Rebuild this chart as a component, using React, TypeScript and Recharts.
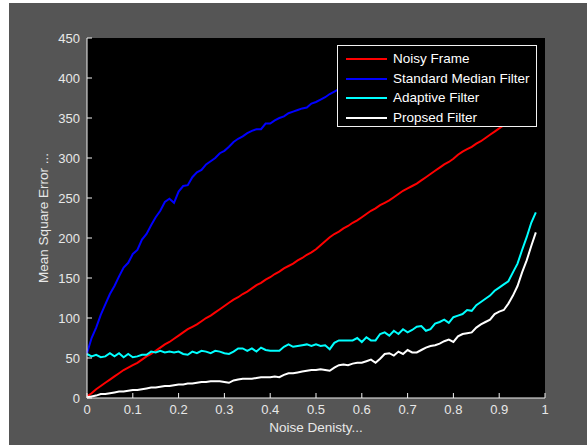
import React from "react";
import { LineChart, Line, XAxis, YAxis, CartesianGrid, Legend, Label } from "recharts";

const noiseDensity = [
  0, 0.01, 0.02, 0.03, 0.04, 0.05, 0.06, 0.07, 0.08, 0.09,
  0.1, 0.11, 0.12, 0.13, 0.14, 0.15, 0.16, 0.17, 0.18, 0.19,
  0.2, 0.21, 0.22, 0.23, 0.24, 0.25, 0.26, 0.27, 0.28, 0.29,
  0.3, 0.31, 0.32, 0.33, 0.34, 0.35, 0.36, 0.37, 0.38, 0.39,
  0.4, 0.41, 0.42, 0.43, 0.44, 0.45, 0.46, 0.47, 0.48, 0.49,
  0.5, 0.51, 0.52, 0.53, 0.54, 0.55, 0.56, 0.57, 0.58, 0.59,
  0.6, 0.61, 0.62, 0.63, 0.64, 0.65, 0.66, 0.67, 0.68, 0.69,
  0.7, 0.71, 0.72, 0.73, 0.74, 0.75, 0.76, 0.77, 0.78, 0.79,
  0.8, 0.81, 0.82, 0.83, 0.84, 0.85, 0.86, 0.87, 0.88, 0.89,
  0.9, 0.91, 0.92, 0.93, 0.94, 0.95, 0.96, 0.97, 0.98,
];

const noisyFrame = [
  2, 6, 11, 15, 19, 23, 27, 31, 35, 38,
  41, 44, 48, 52, 55, 59, 63, 67, 70, 74,
  78, 82, 86, 89, 92, 96, 100, 103, 107, 111,
  115, 119, 123, 126, 130, 133, 137, 141, 144, 148,
  151, 155, 158, 162, 165, 168, 172, 175, 179, 182,
  186, 191, 196, 201, 205, 208, 212, 215, 219, 222,
  226, 230, 234, 237, 241, 244, 247, 251, 255, 259,
  262, 265, 268, 272, 276, 280, 284, 288, 292, 295,
  299, 304, 308, 311, 314, 318, 321, 325, 329, 333,
  337, 341, 345, 349, 352, 355, 358, 361, 364,
];

const standardMedian = [
  56, 75, 88, 104, 117, 130, 140, 152, 163, 169,
  180, 185, 198, 205, 216, 226, 234, 245, 249, 244,
  258, 265, 266, 276, 282, 285, 292, 296, 300, 306,
  309, 314, 320, 324, 327, 331, 334, 336, 336, 343,
  343, 347, 350, 352, 356, 358, 360, 362, 363, 368,
  370, 373, 376, 380, 383, 386, 388, 390, 392, 394,
  396, 397, 399, 400, 402, 403, 404, 406, 407, 408,
  409, 410, 411, 412, 413, 414, 415, 416, 417, 418,
  419, 420, 421, 422, 423, 424, 425, 426, 426, 427,
  428, 428, 429, 430, 430, 431, 431, 432, 432,
];

const adaptive = [
  55, 52, 54, 51, 52, 56, 52, 56, 51, 55,
  51, 52, 54, 54, 58, 57, 59, 57, 58, 57,
  58, 55, 54, 58, 56, 59, 58, 56, 59, 58,
  56, 55, 58, 62, 62, 59, 62, 58, 63, 60,
  59, 59, 59, 64, 67, 64, 65, 66, 67, 65,
  67, 65, 66, 61, 69, 72, 72, 72, 72, 75,
  70, 76, 72, 72, 80, 82, 78, 84, 80, 86,
  82, 85, 89, 90, 84, 86, 93, 95, 98, 94,
  101, 103, 105, 110, 109, 116, 120, 124, 128, 134,
  138, 142, 146, 157, 168, 185, 201, 219, 232,
];

const proposed = [
  1, 2, 3, 5, 5, 6, 7, 8, 8, 9,
  10, 10, 11, 12, 13, 13, 14, 15, 15, 16,
  17, 17, 18, 18, 19, 20, 20, 21, 21, 21,
  20, 19, 22, 23, 24, 24, 24, 25, 26, 26,
  26, 27, 26, 29, 31, 31, 32, 33, 34, 35,
  35, 36, 35, 34, 38, 41, 42, 41, 43, 44,
  44, 46, 48, 44, 49, 55, 56, 53, 58, 55,
  60, 57, 57, 60, 63, 65, 66, 68, 71, 73,
  70, 77, 80, 81, 82, 88, 92, 95, 98, 105,
  108, 110, 118, 128, 140, 157, 172, 190, 207,
];

const xTicks = [0, 0.1, 0.2, 0.3, 0.4, 0.5, 0.6, 0.7, 0.8, 0.9, 1];
const yTicks = [0, 50, 100, 150, 200, 250, 300, 350, 400, 450];

const seriesNames = ["Noisy Frame", "Standard Median Filter", "Adaptive Filter", "Propsed Filter"];

const data = noiseDensity.map((x, i) => ({
  x,
  noisy: noisyFrame[i],
  median: standardMedian[i],
  adaptive: adaptive[i],
  proposed: proposed[i],
}));

const FONT = "'Liberation Sans', Arial, Helvetica, sans-serif";
const TEXT = "#e8e8e8";
const AXIS = "#f2f2f2";
const TICK_MARGIN = 7;
const TICK_LEN = 5;

const XTick = (props: any) => {
  const { x, y, payload } = props;
  const axisY = y - TICK_MARGIN;
  return (
    <g>
      <line x1={x} x2={x} y1={axisY} y2={axisY - TICK_LEN} stroke={AXIS} strokeWidth={1} />
      <text x={x} y={y} dy="0.71em" textAnchor="middle" fill={TEXT} fontSize={13} fontFamily={FONT}>
        {String(payload.value)}
      </text>
    </g>
  );
};

const YTick = (props: any) => {
  const { x, y, payload } = props;
  const axisX = x + TICK_MARGIN;
  return (
    <g>
      <line x1={axisX} x2={axisX + TICK_LEN} y1={y} y2={y} stroke={AXIS} strokeWidth={1} />
      <text x={x} y={y} dy="0.355em" textAnchor="end" fill={TEXT} fontSize={13} fontFamily={FONT}>
        {String(payload.value)}
      </text>
    </g>
  );
};

const LegendBox = (props: any) => {
  const payload = [...(props.payload || [])].sort(
    (a: any, b: any) => seriesNames.indexOf(a.value) - seriesNames.indexOf(b.value)
  );
  return (
    <div
      style={{
        boxSizing: "border-box",
        width: 200,
        height: 82,
        border: "1px solid #f2f2f2",
        background: "#000",
        padding: "3px 0 0 8px",
        fontFamily: FONT,
      }}
    >
      {payload.map((entry: any) => (
        <div key={entry.value} style={{ display: "flex", alignItems: "center", height: 19.7 }}>
          <div style={{ width: 41, height: 2, background: entry.color, marginRight: 6 }} />
          <span style={{ color: "#ffffff", fontSize: 13.5, lineHeight: "19.7px", whiteSpace: "nowrap" }}>
            {entry.value}
          </span>
        </div>
      ))}
    </div>
  );
};

export default function App() {
  return (
    <div
      style={{
        position: "absolute",
        left: 9,
        top: 3,
        width: 578,
        height: 442,
        background: "#555555",
      }}
    >
      <LineChart width={578} height={442} data={data} margin={{ top: 35, right: 42, left: 0, bottom: 0 }}>
        <CartesianGrid horizontal={false} vertical={false} fill="#000000" stroke="none" />
        <XAxis
          dataKey="x"
          type="number"
          domain={[0, 1]}
          ticks={xTicks}
          interval={0}
          height={47}
          tickSize={0}
          tickMargin={TICK_MARGIN}
          tickLine={false}
          axisLine={{ stroke: AXIS, strokeWidth: 1 }}
          tick={<XTick />}
        >
          <Label
            value="Noise Denisty..."
            position="insideBottom"
            offset={13}
            fill={TEXT}
            style={{ fontSize: 13.5, fontFamily: FONT, fill: TEXT }}
          />
        </XAxis>
        <YAxis
          type="number"
          domain={[0, 450]}
          ticks={yTicks}
          interval={0}
          width={78}
          tickSize={0}
          tickMargin={TICK_MARGIN}
          tickLine={false}
          axisLine={{ stroke: AXIS, strokeWidth: 1 }}
          tick={<YTick />}
        >
          <Label
            value="Mean Square Error ..."
            position="insideLeft"
            angle={-90}
            offset={34}
            style={{ textAnchor: "middle", fontSize: 13.5, fontFamily: FONT, fill: TEXT }}
          />
        </YAxis>
        <Line type="linear" dataKey="noisy" name={seriesNames[0]} stroke="#ff0000" strokeWidth={2} dot={false} isAnimationActive={false} />
        <Line type="linear" dataKey="median" name={seriesNames[1]} stroke="#0000ff" strokeWidth={2} dot={false} isAnimationActive={false} />
        <Line type="linear" dataKey="adaptive" name={seriesNames[2]} stroke="#00ffff" strokeWidth={2} dot={false} isAnimationActive={false} />
        <Line type="linear" dataKey="proposed" name={seriesNames[3]} stroke="#ffffff" strokeWidth={2} dot={false} isAnimationActive={false} />
        <Legend
          layout="horizontal"
          verticalAlign="middle"
          align="center"
          content={<LegendBox />}
          wrapperStyle={{ position: "absolute", top: 42, left: 328, width: 200, height: 82 }}
        />
      </LineChart>
    </div>
  );
}
